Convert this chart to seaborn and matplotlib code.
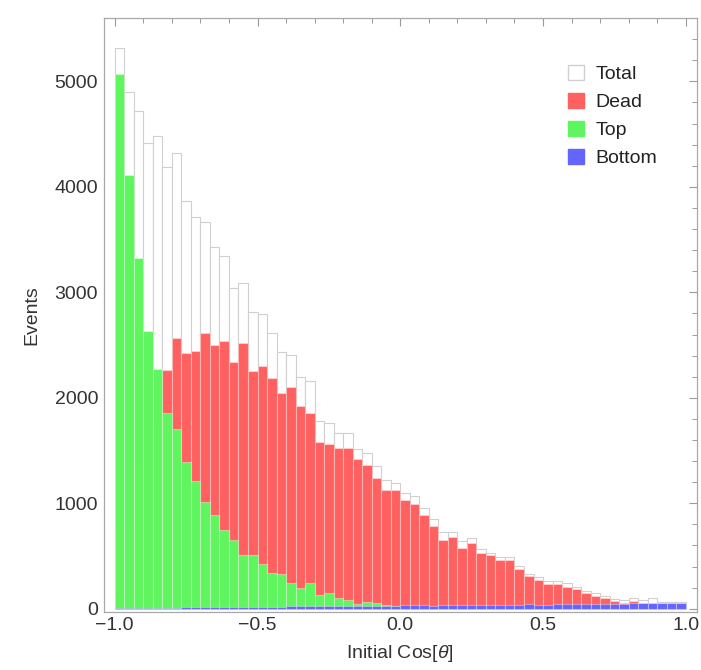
import numpy as np
import pandas as pd
import matplotlib
matplotlib.use("Agg")
import matplotlib.pyplot as plt
import seaborn as sns
from matplotlib.patches import Patch
from matplotlib.ticker import MultipleLocator, FuncFormatter

# 60 bins across Cos[theta] from -1 to 1
edges = np.linspace(-1.0, 1.0, 61)
centers = 0.5 * (edges[:-1] + edges[1:])

total = [5320, 4900, 4715, 4420, 4480, 4190, 4320, 3870, 3715, 3670,
         3430, 3345, 3040, 3090, 2810, 2795, 2616, 2435, 2407, 2196,
         2164, 1776, 1760, 1671, 1665, 1517, 1476, 1349, 1223, 1197,
         1097, 1065, 954, 850, 723, 723, 638, 670, 566, 528,
         490, 490, 401, 332, 300, 259, 259, 244, 211, 164,
         149, 123, 92, 85, 101, 85, 101, 60, 60, 60]

dead = [230, 780, 1370, 1770, 2190, 2265, 2566, 2426, 2440, 2616,
        2496, 2540, 2344, 2518, 2256, 2306, 2192, 2044, 2098, 1918,
        1855, 1580, 1561, 1523, 1523, 1419, 1365, 1238, 1128, 1128,
        1033, 995, 891, 780, 654, 685, 575, 628, 528, 512,
        458, 458, 376, 313, 268, 237, 237, 211, 187, 149,
        117, 101, 69, 54, 69, 28, 40, 12, 10, 6]

top = [5070, 4110, 3330, 2635, 2275, 1857, 1706, 1396, 1207, 1014,
       891, 749, 654, 512, 512, 427, 341, 330, 245, 196,
       243, 133, 150, 101, 85, 47, 60, 55, 38, 25,
       20, 18, 15, 15, 12, 10, 10, 8, 8, 6,
       5, 5, 4, 4, 3, 3, 2, 2, 2, 1,
       1, 1, 1, 0, 0, 0, 0, 0, 0, 0]

bottom = [5, 6, 6, 8, 8, 10, 10, 12, 12, 14,
          15, 15, 16, 18, 18, 20, 20, 20, 22, 22,
          24, 24, 25, 25, 26, 28, 28, 30, 30, 30,
          32, 32, 34, 30, 34, 35, 36, 35, 38, 36,
          38, 40, 38, 42, 40, 40, 42, 44, 42, 44,
          45, 46, 46, 48, 50, 50, 55, 52, 52, 55]

df = pd.DataFrame({"center": centers, "Total": total, "Dead": dead,
                   "Top": top, "Bottom": bottom})

series = [("Total", "white", "#d0d0d0"),
          ("Dead", "#ff6161", (1, 1, 1, 0.35)),
          ("Top", "#5ef55e", (1, 1, 1, 0.35)),
          ("Bottom", "#6464ff", (1, 1, 1, 0.35))]

sns.set_style("white")
plt.rcParams["font.family"] = ["Liberation Sans", "DejaVu Sans"]
plt.rcParams["mathtext.fontset"] = "custom"
plt.rcParams["mathtext.it"] = "Liberation Sans:italic"
plt.rcParams["mathtext.rm"] = "Liberation Sans"

fig = plt.figure(figsize=(7.01, 6.70), dpi=100)
ax = fig.add_axes([0.148, 0.087, 0.846, 0.886])

for name, fc, ec in series:
    sns.histplot(data=df, x="center", weights=name, bins=list(edges), color=fc,
                 edgecolor=ec, linewidth=0.8, alpha=1, ax=ax)

ax.set_xlim(-1.0385, 1.0385)
ax.set_ylim(-28, 5600)
ax.xaxis.set_major_locator(MultipleLocator(0.5))
ax.xaxis.set_minor_locator(MultipleLocator(0.1))
ax.yaxis.set_major_locator(MultipleLocator(1000))
ax.yaxis.set_minor_locator(MultipleLocator(200))
ax.xaxis.set_major_formatter(FuncFormatter(lambda v, p: f"{v:.1f}".replace("-", "\u2212")))

ax.tick_params(which="both", direction="in", top=True, right=True,
               color="#9a9a9a", labelcolor="#333333", labelsize=14)
ax.tick_params(which="major", length=6, width=0.8)
ax.tick_params(which="minor", length=3.5, width=0.7)
ax.tick_params(axis="y", pad=4)
ax.tick_params(axis="x", pad=4)
for s in ax.spines.values():
    s.set_color("#a8a8a8")
    s.set_linewidth(0.9)

ax.set_xlabel(r"Initial Cos[$\it{\theta}$]", fontsize=14, color="#333333", labelpad=6)
ax.set_ylabel("Events", fontsize=14, color="#333333", labelpad=10)

handles = [Patch(facecolor=fc, edgecolor=("#d0d0d0" if name == "Total" else fc), label=name)
           for name, fc, ec in series]
ax.legend(handles=handles, loc="upper right", bbox_to_anchor=(0.963, 0.95), frameon=False,
          fontsize=14, handlelength=0.8, handleheight=0.8, handletextpad=0.6,
          labelspacing=0.5, labelcolor="#222222")

fig.savefig("out.png", dpi=100)
